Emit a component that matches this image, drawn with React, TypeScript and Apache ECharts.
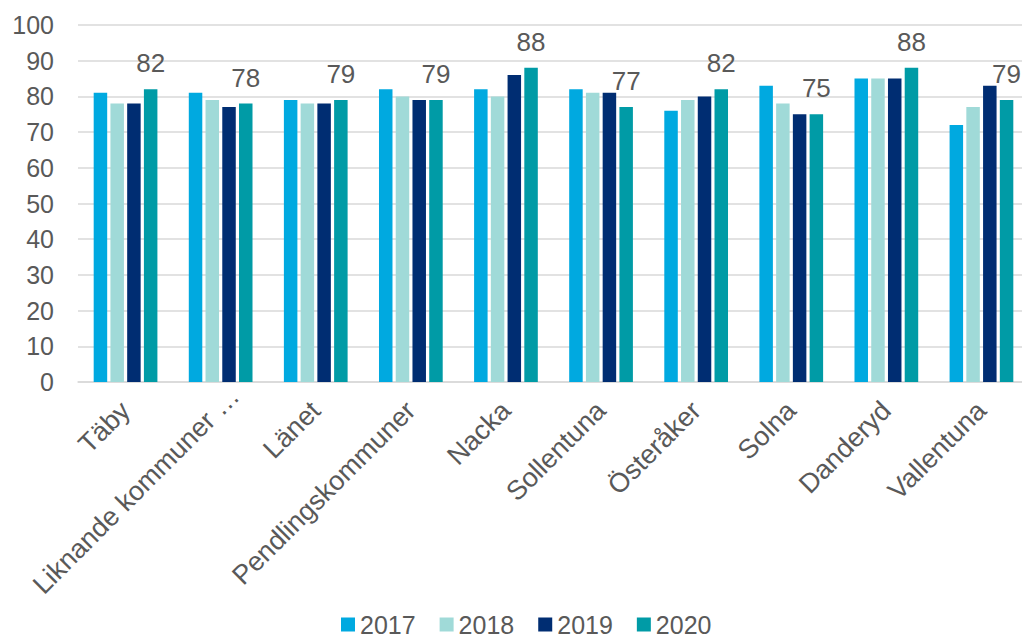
import React, { useEffect, useRef } from "react";
import * as echarts from "echarts";

const categories = [
  "Täby",
  "Liknande kommuner …",
  "Länet",
  "Pendlingskommuner",
  "Nacka",
  "Sollentuna",
  "Österåker",
  "Solna",
  "Danderyd",
  "Vallentuna",
];
const years = ["2017", "2018", "2019", "2020"];
const values2017 = [81, 81, 79, 82, 82, 82, 76, 83, 85, 72];
const values2018 = [78, 79, 78, 80, 80, 81, 79, 78, 85, 77];
const values2019 = [78, 77, 78, 79, 86, 81, 80, 75, 85, 83];
const values2020 = [82, 78, 79, 79, 88, 77, 82, 75, 88, 79];
const yTicks = { min: 0, max: 100, interval: 10 };

const colors = ["#00a9e0", "#a0dad8", "#002d72", "#009ba6"];
const textColor = "#595959";
const font = "'Liberation Sans', Arial, sans-serif";

export default function App() {
  const ref = useRef<HTMLDivElement>(null);
  useEffect(() => {
    document.body.style.margin = "0";
    const chart = echarts.init(ref.current!, null, { renderer: "svg" });
    const seriesData = [values2017, values2018, values2019, values2020];
    chart.setOption({
      animation: false,
      textStyle: { fontFamily: font },
      color: colors,
      grid: { left: 78, right: 0, top: 25, bottom: 257, containLabel: false },
      legend: {
        data: years,
        left: 336,
        top: 607,
        padding: 5,
        itemWidth: 14,
        itemHeight: 14,
        itemGap: 24,
        icon: "rect",
        textStyle: { fontSize: 25, lineHeight: 22, color: textColor, fontFamily: font },
      },
      xAxis: {
        type: "category",
        data: categories.map((c, i) =>
          i === 1 ? { value: c, textStyle: { padding: [0, -20, 0, 0] } } : c
        ),
        axisLine: { show: true, lineStyle: { color: "#d9d9d9", width: 1.5 } },
        axisTick: { show: false },
        axisLabel: {
          rotate: 45,
          interval: 0,
          margin: 24,
          fontSize: 27,
          color: textColor,
          fontFamily: font,
        },
      },
      yAxis: {
        type: "value",
        min: yTicks.min,
        max: yTicks.max,
        interval: yTicks.interval,
        axisLine: { show: false },
        axisTick: { show: false },
        splitLine: { lineStyle: { color: "#d9d9d9", width: 1.5 } },
        axisLabel: { fontSize: 25, color: textColor, margin: 24, fontFamily: font },
      },
      series: years.map((y, i) => ({
        name: y,
        type: "bar",
        data: seriesData[i],
        barWidth: 13.5,
        barGap: "24%",
        label:
          i === 3
            ? {
                show: true,
                position: "top",
                distance: 13,
                fontSize: 26,
                color: textColor,
                fontFamily: font,
              }
            : { show: false },
      })),
    });
    return () => chart.dispose();
  }, []);
  return (
    <div style={{ position: "absolute", left: 0, top: 0, width: 1022, height: 639, overflow: "hidden" }}>
      <div ref={ref} style={{ width: 1029, height: 639 }} />
    </div>
  );
}
